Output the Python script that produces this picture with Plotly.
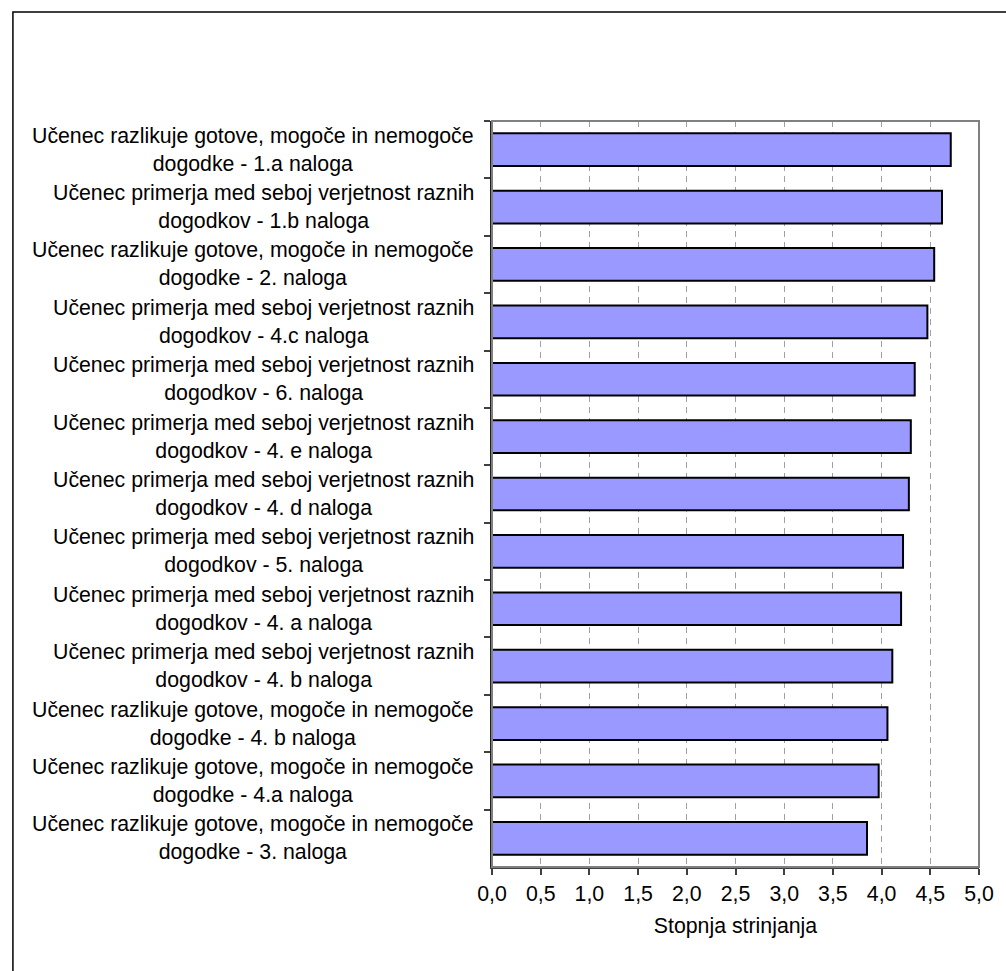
import plotly.graph_objects as go

# Survey items (top to bottom) and their mean agreement scores
items = [
    "Učenec razlikuje gotove, mogoče in nemogoče<br>dogodke - 1.a naloga",
    "Učenec primerja med seboj verjetnost raznih<br>dogodkov - 1.b naloga",
    "Učenec razlikuje gotove, mogoče in nemogoče<br>dogodke - 2. naloga",
    "Učenec primerja med seboj verjetnost raznih<br>dogodkov - 4.c naloga",
    "Učenec primerja med seboj verjetnost raznih<br>dogodkov - 6. naloga",
    "Učenec primerja med seboj verjetnost raznih<br>dogodkov - 4. e naloga",
    "Učenec primerja med seboj verjetnost raznih<br>dogodkov - 4. d naloga",
    "Učenec primerja med seboj verjetnost raznih<br>dogodkov - 5. naloga",
    "Učenec primerja med seboj verjetnost raznih<br>dogodkov - 4. a naloga",
    "Učenec primerja med seboj verjetnost raznih<br>dogodkov - 4. b naloga",
    "Učenec razlikuje gotove, mogoče in nemogoče<br>dogodke - 4. b naloga",
    "Učenec razlikuje gotove, mogoče in nemogoče<br>dogodke - 4.a naloga",
    "Učenec razlikuje gotove, mogoče in nemogoče<br>dogodke - 3. naloga",
]
scores = [4.71, 4.62, 4.54, 4.47, 4.34, 4.30, 4.28, 4.22, 4.20, 4.11, 4.06, 3.97, 3.85]

x_ticks = [0.0, 0.5, 1.0, 1.5, 2.0, 2.5, 3.0, 3.5, 4.0, 4.5, 5.0]
x_title = "Stopnja strinjanja"

FONT = "Liberation Sans, Arial, sans-serif"
FS = 21.3
W, H = 1006, 971
L, R, T, B = 492, 22, 121, 104
pw, ph = W - L - R, H - T - B

fig = go.Figure(
    go.Bar(
        x=scores,
        y=items,
        orientation="h",
        marker=dict(color="#9999FF", line=dict(color="#000000", width=2)),
        hoverinfo="x+y",
    )
)

# Category labels: right-anchored blocks with centred lines
annotations = [
    dict(
        x=0, xref="paper", y=it, yref="y",
        text=it, showarrow=False, xanchor="right", yanchor="middle",
        align="center", xshift=-16,
        font=dict(family=FONT, size=FS, color="#000000"),
    )
    for it in items
]

def px_x(px):
    return (px - L) / pw

def px_y(py):
    return (H - B - py) / ph

shapes = [
    # plot-area frame (grey top/right)
    dict(type="rect", xref="paper", yref="paper", x0=0, x1=1, y0=0, y1=1,
         line=dict(color="#808080", width=2), layer="above"),
    # outer chart frame
    dict(type="rect", xref="paper", yref="paper",
         x0=px_x(8), x1=px_x(1020), y0=px_y(990), y1=px_y(12),
         line=dict(color="#000000", width=1.5), layer="below"),
]

fig.update_layout(
    width=W, height=H,
    margin=dict(l=L, r=R, t=T, b=B, pad=0),
    paper_bgcolor="#FFFFFF", plot_bgcolor="#FFFFFF",
    separators=", ",
    bargap=0.43,
    showlegend=False,
    font=dict(family=FONT, size=FS, color="#000000"),
    annotations=annotations,
    shapes=shapes,
    xaxis=dict(
        range=[0, 5],
        tickvals=x_ticks,
        tickformat=".1f",
        showgrid=True, gridcolor="#A0A0A0", griddash="6px,5px", gridwidth=1,
        showline=True, linecolor="#404040", linewidth=2,
        ticks="outside", ticklen=6, tickcolor="#404040", tickwidth=1.5,
        tickfont=dict(family=FONT, size=FS, color="#000000"),
        title=dict(text=x_title, font=dict(family=FONT, size=FS, color="#000000"), standoff=14),
        zeroline=False, fixedrange=True,
    ),
    yaxis=dict(
        type="category",
        autorange="reversed",
        showticklabels=False,
        tickson="boundaries",
        ticks="outside", ticklen=6, tickcolor="#404040", tickwidth=1.5,
        showline=True, linecolor="#202020", linewidth=2,
        showgrid=False, zeroline=False, fixedrange=True,
    ),
)

fig.write_html("out.html")
